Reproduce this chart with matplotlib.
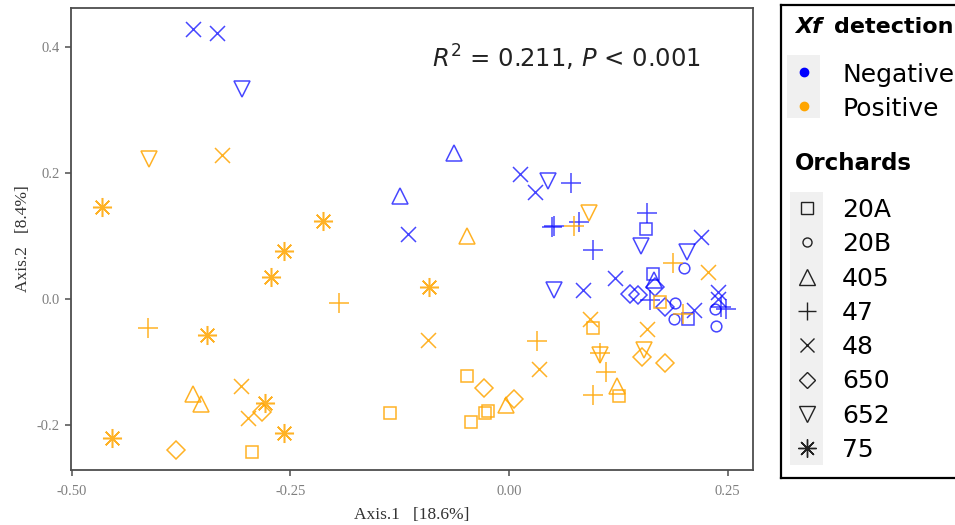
import matplotlib
matplotlib.use("Agg")
import matplotlib.pyplot as plt
from matplotlib.patches import Rectangle

# ---------------- data ----------------
orchards = ["20A", "20B", "405", "47", "48", "650", "652", "75"]
status_labels = ["Negative", "Positive"]
status_colors = {"Negative": "#0000FF", "Positive": "#FFA500"}

# Negative (Xf not detected)
neg_20A_x = [0.157, 0.165, 0.205]
neg_20A_y = [0.111, 0.040, -0.032]
neg_20B_x = [0.200, 0.190, 0.189, 0.235, 0.237]
neg_20B_y = [0.049, -0.006, -0.032, -0.016, -0.042]
neg_405_x = [-0.063, -0.125, 0.166]
neg_405_y = [0.232, 0.163, 0.030]
neg_47_x = [0.071, 0.049, 0.051, 0.080, 0.158, 0.096, 0.161, 0.248, 0.242]
neg_47_y = [0.185, 0.115, 0.116, 0.123, 0.137, 0.078, -0.002, -0.016, -0.012]
neg_48_x = [-0.362, -0.334, -0.116, 0.013, 0.030, 0.219, 0.121, 0.084, 0.211, 0.239, 0.239]
neg_48_y = [0.429, 0.422, 0.104, 0.198, 0.170, 0.098, 0.034, 0.014, -0.017, 0.012, 0.000]
neg_650_x = [0.138, 0.147, 0.178, 0.167]
neg_650_y = [0.008, 0.006, -0.012, 0.020]
neg_652_x = [-0.306, 0.044, 0.151, 0.204, 0.051]
neg_652_y = [0.334, 0.188, 0.084, 0.075, 0.014]
neg_75_x = []
neg_75_y = []

# Positive (Xf detected)
pos_20A_x = [0.173, 0.096, -0.048, -0.136, -0.044, -0.027, -0.024, 0.126, -0.294]
pos_20A_y = [-0.004, -0.045, -0.122, -0.180, -0.195, -0.180, -0.178, -0.153, -0.242]
pos_20B_x = []
pos_20B_y = []
pos_405_x = [-0.048, -0.003, 0.124, -0.361, -0.352]
pos_405_y = [0.100, -0.168, -0.138, -0.150, -0.166]
pos_47_x = [0.074, 0.199, 0.188, 0.104, 0.111, 0.096, -0.194, 0.032, -0.413]
pos_47_y = [0.116, -0.023, 0.058, -0.086, -0.115, -0.152, -0.006, -0.067, -0.046]
pos_48_x = [-0.328, 0.228, 0.093, 0.158, -0.093, 0.034, -0.307, -0.299]
pos_48_y = [0.229, 0.043, -0.031, -0.048, -0.065, -0.110, -0.138, -0.188]
pos_650_x = [0.152, 0.178, -0.029, 0.006, -0.282, -0.381]
pos_650_y = [-0.092, -0.101, -0.141, -0.158, -0.179, -0.239]
pos_652_x = [-0.412, 0.091, 0.104, 0.154]
pos_652_y = [0.222, 0.136, -0.089, -0.080]
pos_75_x = [-0.466, -0.213, -0.257, -0.272, -0.091, -0.346, -0.279, -0.257, -0.454]
pos_75_y = [0.147, 0.124, 0.077, 0.035, 0.020, -0.057, -0.164, -0.212, -0.220]

negative = {
    "20A": (neg_20A_x, neg_20A_y), "20B": (neg_20B_x, neg_20B_y),
    "405": (neg_405_x, neg_405_y), "47": (neg_47_x, neg_47_y),
    "48": (neg_48_x, neg_48_y), "650": (neg_650_x, neg_650_y),
    "652": (neg_652_x, neg_652_y), "75": (neg_75_x, neg_75_y),
}
positive = {
    "20A": (pos_20A_x, pos_20A_y), "20B": (pos_20B_x, pos_20B_y),
    "405": (pos_405_x, pos_405_y), "47": (pos_47_x, pos_47_y),
    "48": (pos_48_x, pos_48_y), "650": (pos_650_x, pos_650_y),
    "652": (pos_652_x, pos_652_y), "75": (pos_75_x, pos_75_y),
}

x_ticks = [-0.50, -0.25, 0.00, 0.25]
x_ticklabels = ["-0.50", "-0.25", "0.00", "0.25"]
y_ticks = [-0.2, 0.0, 0.2, 0.4]
y_ticklabels = ["-0.2", "0.0", "0.2", "0.4"]

# ---------------- styles ----------------
marker_style = {
    "20A": dict(marker="s", ms=9.3),
    "20B": dict(marker="o", ms=7.7),
    "405": dict(marker="^", ms=12),
    "47": dict(marker="+", ms=14.4),
    "48": dict(marker="x", ms=10.8),
    "650": dict(marker="D", ms=9.0),
    "652": dict(marker="v", ms=12),
    "75": dict(marker=(8, 2, 0), ms=13.7),
}

plt.rcParams["mathtext.fontset"] = "dejavusans"

W, H = 955, 525
fig = plt.figure(figsize=(W / 100, H / 100), dpi=100)
fig.patch.set_facecolor("white")

L, R, T, B = 71, 753, 8, 470
ax = fig.add_axes([L / W, (H - B) / H, (R - L) / W, (B - T) / H])

for status, data, alpha in (("Negative", negative, 0.72), ("Positive", positive, 0.85)):
    for o in orchards:
        xs, ys = data[o]
        if not xs:
            continue
        st = marker_style[o]
        ax.plot(xs, ys, linestyle="none", marker=st["marker"], ms=st["ms"],
                mfc="none", mec=status_colors[status], mew=1.1, alpha=alpha)

ax.set_xlim(-0.501, 0.279)
ax.set_ylim(-0.271, 0.462)
ax.set_xticks(x_ticks)
ax.set_xticklabels(x_ticklabels)
ax.set_yticks(y_ticks)
ax.set_yticklabels(y_ticklabels)
for sp in ax.spines.values():
    sp.set_color("#4d4d4d")
    sp.set_linewidth(1.3)
ax.tick_params(direction="out", length=4, width=1.1, color="#4d4d4d",
               labelcolor="#7f7f7f", labelsize=10.5)
ax.tick_params(axis="x", pad=7)
ax.tick_params(axis="y", pad=4)
for lab in ax.get_xticklabels() + ax.get_yticklabels():
    lab.set_fontfamily("Liberation Serif")
ax.set_xlabel("Axis.1   [18.6%]", fontfamily="Liberation Serif", fontsize=12.5,
              color="#333333", labelpad=6)
ax.set_ylabel("Axis.2   [8.4%]", fontfamily="Liberation Serif", fontsize=12.5,
              color="#333333", labelpad=4)

ax.text(0.529, 0.870, r"$R^{2}$ = 0.211, $P$ < 0.001", transform=ax.transAxes,
        fontfamily="DejaVu Sans", fontsize=17.5, color="#222222", ha="left", va="baseline")

# ---------------- legend (pixel-based layout) ----------------
lx0, lx1, ly0, ly1 = 781, 965, 5, 478
lax = fig.add_axes([lx0 / W, (H - ly1) / H, (lx1 - lx0) / W, (ly1 - ly0) / H])
lax.set_xlim(lx0, lx1)
lax.set_ylim(ly1, ly0)
lax.set_xticks([])
lax.set_yticks([])
for sp in lax.spines.values():
    sp.set_color("black")
    sp.set_linewidth(1.6)

lfont = "DejaVu Sans"
lax.text(795, 33, "Xf", fontfamily=lfont, fontweight="bold", fontstyle="italic",
         fontsize=16, ha="left", va="baseline")
lax.text(834, 33, "detection", fontfamily=lfont, fontweight="bold",
         fontsize=16, ha="left", va="baseline")
lax.add_patch(Rectangle((787, 55), 33, 63, facecolor="#f0f0f0", edgecolor="none"))
for i, s in enumerate(status_labels):
    yb = 82 + i * 34.5
    lax.plot([803.5], [yb - 10.5], marker="o", ms=6.0, color=status_colors[s],
             linestyle="none")
    lax.text(842, yb, s, fontfamily=lfont, fontsize=18, ha="left", va="baseline")

lax.text(795, 170, "Orchards", fontfamily=lfont, fontweight="bold",
         fontsize=16.5, ha="left", va="baseline")
lax.add_patch(Rectangle((790, 192), 33, 273, facecolor="#f0f0f0", edgecolor="none"))
leg_ms = {"20A": 9.0, "20B": 6.5, "405": 11, "47": 13, "48": 10, "650": 8.5,
          "652": 11, "75": 13}
for i, o in enumerate(orchards):
    yb = 217 + i * 34.3
    st = marker_style[o]
    lax.plot([806.5], [yb - 9], marker=st["marker"], ms=leg_ms[o], mfc="none",
             mec="#222222", mew=1.0, linestyle="none")
    lax.text(842, yb, o, fontfamily=lfont, fontsize=18, ha="left", va="baseline")

fig.savefig("out.png", dpi=100)
